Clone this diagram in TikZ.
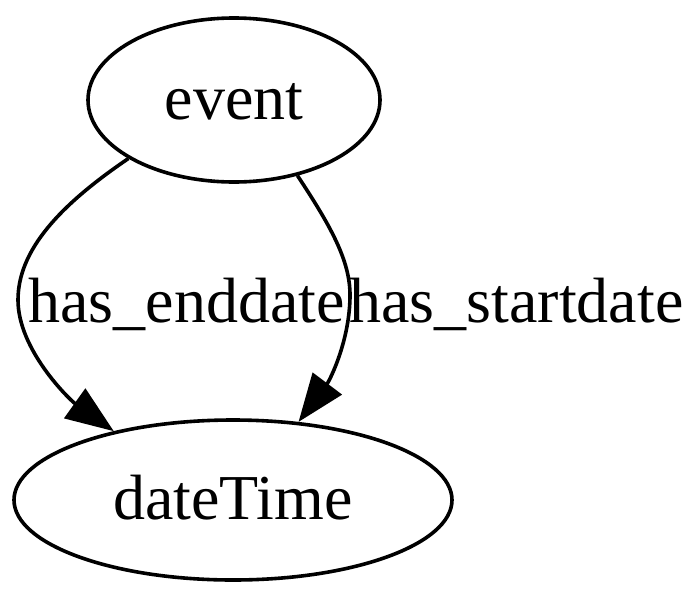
\documentclass[tikz,border=0pt]{standalone}
\usepackage{fontspec}
\setmainfont{Liberation Serif}
\usetikzlibrary{shapes.geometric,arrows.meta}
\begin{document}
\begin{tikzpicture}[x=0.5pt,y=-0.5pt,
  nodeell/.style={draw,ellipse,line width=1.8pt,inner sep=0pt,font=\fontsize{32pt}{38pt}\selectfont,text height=22pt,text depth=3pt},
  lbl/.style={inner sep=0pt,font=\fontsize{32pt}{38pt}\selectfont,text height=22pt,text depth=3pt},
  edge/.style={draw,line width=1.8pt,-{Triangle[length=24pt,width=18pt]}}]
\path[use as bounding box] (0,0) rectangle (700,605);
\node[nodeell,minimum width=146pt,minimum height=82pt] (event) at (234,100) {event};
\node[nodeell,minimum width=219pt,minimum height=80pt] (dt) at (233,500) {dateTime};
\draw[edge] (event.209) .. controls (60,205) and (18,250) .. (18,300)
  .. controls (18,350) and (70,400) .. (dt.150);
\draw[edge] (event.310) .. controls (330,225) and (350,260) .. (350,295)
  .. controls (350,340) and (330,380) .. (dt.50);
\node[lbl,anchor=east] (l1) at (345,303) {has\_enddate};
\node[lbl,anchor=west] (l2) at (349,303) {has\_startdate};
\end{tikzpicture}
\end{document}
